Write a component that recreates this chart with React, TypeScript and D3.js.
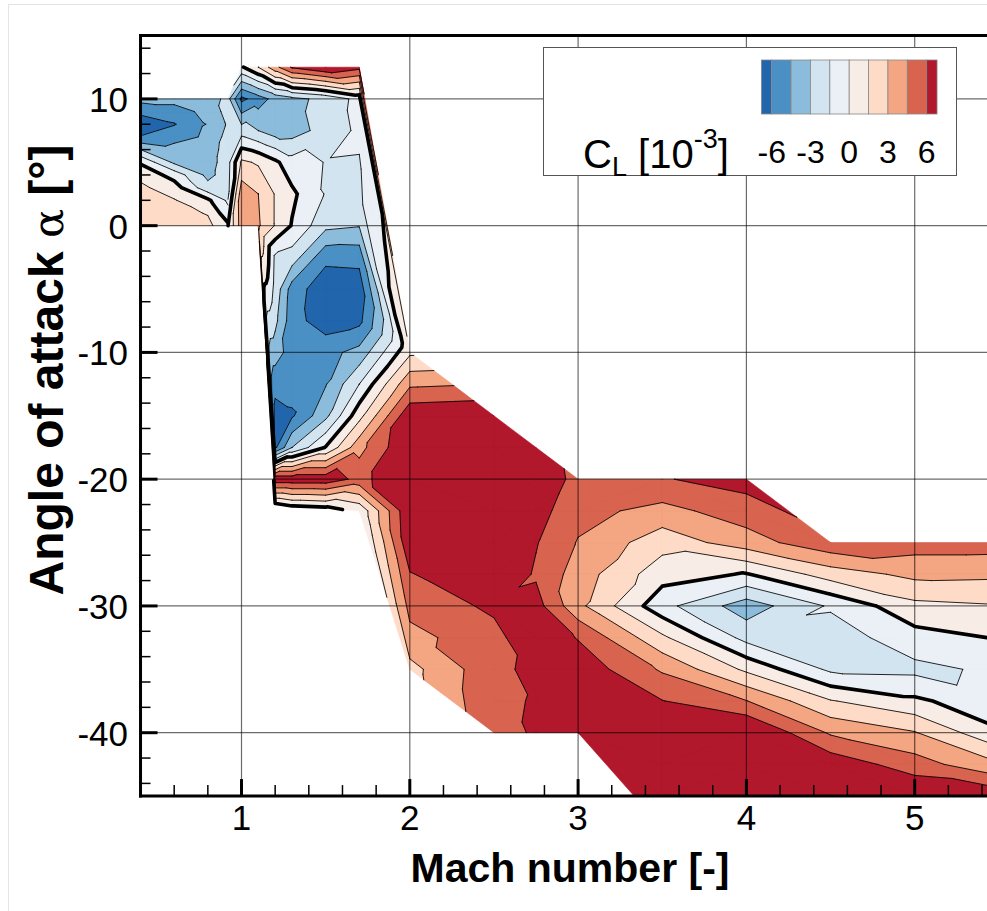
import React from "react";
import * as d3 from "d3";

const WIDTH = 987;
const HEIGHT = 911;

// Axis ticks and legend labels
const machTicks = [1, 2, 3, 4, 5];
const alphaTicks = [-40, -30, -20, -10, 0, 10];
const legendTicks = [-6, -3, 0, 3, 6];

// Contour levels of C_L [1e-3] and the fill colour of each band (below the first level, between levels, above the last)
const levels = [-6, -4.5, -3, -1.5, 0, 1.5, 3, 4.5, 6];
const bandColors = [
  "#2166ac", "#4a90c5", "#8bbcdb", "#d1e4f0", "#eaf0f5",
  "#f8ece7", "#fddbc7", "#f4a582", "#d8634f", "#b2182b",
];

// Subsonic block: Mach columns, angle-of-attack rows, C_L per column
const subMach = [0.4, 0.6, 0.8, 0.92];
const subAlpha = [0, 1, 2, 3, 4, 5, 6, 7, 8, 9, 10];
const subCL = [
  [2.6, 2.5, 2.2, 1.8, 1.1, -0.2, -3.0, -5.9, -7.0, -5.6, -4.0],
  [2.3, 2.0, 1.6, 0.7, -0.6, -3.3, -4.0, -5.0, -6.1, -5.1, -4.0],
  [1.9, 1.4, 0.3, -2.5, -3.4, -3.6, -3.8, -4.3, -4.4, -4.1, -3.7],
  [0.3, -1.0, -1.8, -2.2, -2.3, -2.3, -2.3, -2.4, -2.8, -2.4, -2.6],
];

// Transonic / supersonic block: each Mach column has its own sweep of angles
const mainMach = [0.92, 1.0, 1.1, 1.2, 1.3, 1.5, 1.7, 2.0, 2.5, 2.75, 3.0, 3.5, 4.0, 4.5, 5.0, 5.5];
const mainAlpha = [
  [10, 7.5, 5, 2.5, 0],
  [12.5, 10, 7.5, 5, 2.5, 0],
  [12.5, 10, 7.5, 5, 2.5, 0],
  [12.5, 10, 7.5, 5, 2.5, 0, -2.5, -5, -7.5, -10, -12.5, -15, -17.5, -20, -22],
  [12.5, 10, 7.5, 5, 2.5, 0, -2.5, -5, -7.5, -10, -12.5, -15, -17.5, -20, -22.2],
  [12.5, 10, 7.5, 5, 2.5, 0, -2.5, -5, -7.5, -10, -12.5, -15, -17.5, -20, -22.3],
  [12.5, 10, 7.5, 5, 2.5, 0, -2.5, -5, -7.5, -10, -12.5, -15, -17.5, -20, -22.5],
  [-10, -12.5, -15, -17.5, -20, -22.5, -25, -27.5, -30, -32.5, -35],
  [-15, -17.5, -20, -22.5, -25, -27.5, -30, -32.5, -35, -37.5, -40],
  [-17.5, -20, -22.5, -25, -27.5, -30, -32.5, -35, -37.5, -40],
  [-20, -22.5, -25, -27.5, -30, -32.5, -35, -37.5, -40],
  [-20, -22.5, -25, -27.5, -30, -32.5, -35, -37.5, -40, -42.5, -45, -47.5],
  [-20, -22.5, -25, -27.5, -30, -32.5, -35, -37.5, -40, -42.5, -45, -47.5, -50],
  [-25, -27.5, -30, -32.5, -35, -37.5, -40, -42.5, -45, -47.5, -50],
  [-25, -27.5, -30, -32.5, -35, -37.5, -40, -42.5, -45, -47.5, -50],
  [-25, -27.5, -30, -32.5, -35, -37.5, -40, -42.5, -45, -47.5, -50],
];
const mainCL = [
  [-2.5, -2.2, -2.0, -1.8, 0.0],
  [-0.2, -6.4, -2.2, 1.8, 3.9, 3.8],
  [1.5, -5.2, -3.0, 1.3, 3.0, 3.2],
  [4.0, -4.0, -3.8, 0.3, 1.4, 1.4, -1.8, -2.0, -2.6, -3.8, -5.5, -6.6, -6.3, 7.0, -0.3],
  [6.2, -3.4, -3.7, -0.9, 0.3, -0.1, -2.2, -5.2, -5.4, -5.2, -5.4, -6.2, -3.0, 7.0, -0.3],
  [7.5, -2.6, -2.4, -1.55, -1.6, -2.6, -5.6, -7.0, -6.8, -5.0, -4.6, -3.4, 0.1, 7.0, -0.3],
  [6.5, -1.0, -1.2, -1.6, -1.7, -2.9, -5.5, -6.9, -6.4, -4.0, -1.5, 1.0, 4.0, 5.5, 0.3],
  [1.2, 4.2, 7.2, 7.5, 7.5, 7.4, 7.2, 5.9, 5.0, 4.0, 2.5],
  [7.5, 7.8, 8.0, 8.0, 8.0, 7.5, 6.3, 5.5, 5.6, 5.7, 5.5],
  [7.0, 7.2, 6.6, 6.1, 5.8, 6.6, 7.2, 6.4, 6.1, 6.15],
  [5.5, 5.0, 4.4, 3.8, 3.4, 5.9, 7.0, 7.5, 8.0],
  [5.9, 4.0, 2.1, 0.6, -1.0, 1.8, 4.3, 6.05, 7.2, 7.8, 8.0, 8.0],
  [6.6, 5.3, 3.8, -0.1, -3.8, -2.0, 1.2, 4.55, 7.8, 8.2, 8.3, 8.3, 8.3],
  [5.6, 2.2, -1.3, -2.3, -1.8, 1.6, 4.3, 7.0, 7.8, 8.0, 8.0],
  [5.2, 3.4, 1.1, -0.6, -1.9, 0.3, 3.1, 5.2, 7.5, 8.0, 8.0],
  [5.2, 3.3, 1.4, 0.1, -1.2, -1.1, 0.2, 3.2, 7.0, 8.0, 8.0],
];

type Node = { px: number; py: number; a: number; v: number };
type Pt = [number, number, number];

const x = d3.scaleLinear().domain([1, 5]).range([241.5, 914.7]);
const y = d3.scaleLinear().domain([-40, 10]).range([732.7, 98.9]);
const cbar = d3.scaleLinear().domain([-6, 6]).range([771.7, 926.7]);

const plotLeft = x(0.4);
const plotTop = y(15);
const plotBottom = y(-45);
const plotRight = x(5.56);

function columns(machs: number[], alphas: number[][], cls: number[][]): Node[][] {
  return machs.map((m, i) => {
    const col = alphas[i].map((a, k) => ({ px: x(m), py: y(a), a, v: cls[i][k] }));
    col.sort((p, q) => q.a - p.a);
    return col;
  });
}

// Stitch neighbouring columns into triangles, walking down both columns by angle.
// Where both columns share a row the quad is split along the diagonal with the smaller jump in C_L.
function stitch(cols: Node[][]): Node[][] {
  const tris: Node[][] = [];
  for (let c = 0; c < cols.length - 1; c++) {
    const A = cols[c];
    const B = cols[c + 1];
    let i = 0;
    let j = 0;
    while (i < A.length - 1 || j < B.length - 1) {
      const canA = i < A.length - 1;
      const canB = j < B.length - 1;
      if (canA && canB && A[i].a === B[j].a && A[i + 1].a === B[j + 1].a) {
        const d1 = Math.abs(A[i + 1].v - B[j].v);
        const d2 = Math.abs(A[i].v - B[j + 1].v);
        if (d1 <= d2) {
          tris.push([A[i], A[i + 1], B[j]]);
          tris.push([A[i + 1], B[j + 1], B[j]]);
        } else {
          tris.push([A[i], B[j + 1], B[j]]);
          tris.push([A[i], A[i + 1], B[j + 1]]);
        }
        i++;
        j++;
        continue;
      }
      const advA = canA && (!canB || A[i + 1].a >= B[j + 1].a);
      if (advA) {
        tris.push([A[i], A[i + 1], B[j]]);
        i++;
      } else {
        tris.push([A[i], B[j], B[j + 1]]);
        j++;
      }
    }
  }
  return tris;
}

function lerp(p: Pt, q: Pt, L: number): Pt {
  const t = (L - p[2]) / (q[2] - p[2]);
  return [p[0] + t * (q[0] - p[0]), p[1] + t * (q[1] - p[1]), L];
}

function clipPoly(poly: Pt[], L: number, above: boolean): Pt[] {
  const out: Pt[] = [];
  const n = poly.length;
  for (let k = 0; k < n; k++) {
    const cur = poly[k];
    const prev = poly[(k + n - 1) % n];
    const inCur = above ? cur[2] >= L : cur[2] <= L;
    const inPrev = above ? prev[2] >= L : prev[2] <= L;
    if (inCur) {
      if (!inPrev) out.push(lerp(prev, cur, L));
      out.push(cur);
    } else if (inPrev) {
      out.push(lerp(prev, cur, L));
    }
  }
  return out;
}

function bandPaths(tris: Node[][]): string[] {
  return bandColors.map((_, b) => {
    const lo = b === 0 ? -Infinity : levels[b - 1];
    const hi = b === bandColors.length - 1 ? Infinity : levels[b];
    const path = d3.path();
    for (const t of tris) {
      let poly: Pt[] = t.map((n) => [n.px, n.py, n.v] as Pt);
      if (lo > -Infinity) poly = clipPoly(poly, lo, true);
      if (poly.length >= 3 && hi < Infinity) poly = clipPoly(poly, hi, false);
      if (poly.length < 3) continue;
      path.moveTo(poly[0][0], poly[0][1]);
      for (let k = 1; k < poly.length; k++) path.lineTo(poly[k][0], poly[k][1]);
      path.closePath();
    }
    return path.toString();
  });
}

function isoPath(tris: Node[][], L: number): string {
  const path = d3.path();
  for (const t of tris) {
    const pts: Pt[] = [];
    for (let k = 0; k < 3; k++) {
      const p: Pt = [t[k].px, t[k].py, t[k].v];
      const q: Pt = [t[(k + 1) % 3].px, t[(k + 1) % 3].py, t[(k + 1) % 3].v];
      if ((p[2] >= L) !== (q[2] >= L)) pts.push(lerp(p, q, L));
    }
    if (pts.length === 2) {
      path.moveTo(pts[0][0], pts[0][1]);
      path.lineTo(pts[1][0], pts[1][1]);
    }
  }
  return path.toString();
}

const blocks = [
  stitch(columns(subMach, subMach.map(() => subAlpha), subCL)),
  stitch(columns(mainMach, mainAlpha, mainCL)),
];

const FONT = "'Liberation Sans', Arial, Helvetica, sans-serif";

export default function App() {
  const minorAlpha = d3.range(-44, 15, 2).filter((a) => a % 10 !== 0);
  const minorMach = d3.range(0.6, 5.5, 0.2).filter((m) => Math.abs(m - Math.round(m)) > 0.01);

  const bandsEdges = [-6.8, ...levels, 6.8];

  return (
    <svg
      width={WIDTH}
      height={HEIGHT}
      style={{ position: "absolute", left: 0, top: 0, background: "#fff" }}
      fontFamily={FONT}
    >
      <rect x={8.5} y={4.5} width={990} height={920} fill="none" stroke="#e4e4e4" strokeWidth={1} />
      <defs>
        <clipPath id="plot-area">
          <rect x={plotLeft} y={plotTop} width={plotRight - plotLeft} height={plotBottom - plotTop} />
        </clipPath>
      </defs>

      <g clipPath="url(#plot-area)">
        {blocks.map((tris, bi) => (
          <g key={`blk${bi}`}>
            {bandPaths(tris).map((d, b) => (
              <path key={b} d={d} fill={bandColors[b]} stroke={bandColors[b]} strokeWidth={0.6} strokeLinejoin="round" />
            ))}
          </g>
        ))}
        {machTicks.map((m) => (
          <line key={`gx${m}`} x1={x(m)} x2={x(m)} y1={plotTop} y2={plotBottom} stroke="#000" strokeOpacity={0.58} strokeWidth={1.2} />
        ))}
        {alphaTicks.map((a) => (
          <line key={`gy${a}`} x1={plotLeft} x2={plotRight} y1={y(a)} y2={y(a)} stroke="#000" strokeOpacity={0.58} strokeWidth={1.2} />
        ))}
        {blocks.map((tris, bi) => (
          <g key={`iso${bi}`} fill="none" stroke="#000" strokeLinecap="round" strokeLinejoin="round">
            {levels.map((L) => (
              <path key={L} d={isoPath(tris, L)} strokeWidth={L === 0 ? 3.6 : 1} strokeOpacity={L === 0 ? 1 : 0.85} />
            ))}
          </g>
        ))}
      </g>

      {/* frame */}
      <g stroke="#000" strokeWidth={3} fill="none">
        <line x1={plotLeft} x2={plotLeft} y1={plotTop - 1.5} y2={plotBottom + 1.5} />
        <line x1={plotLeft - 1.5} x2={WIDTH} y1={plotBottom} y2={plotBottom} />
        <line x1={plotLeft - 1.5} x2={WIDTH} y1={plotTop} y2={plotTop} />
      </g>

      {/* ticks */}
      <g stroke="#000">
        {alphaTicks.map((a) => (
          <line key={`ty${a}`} x1={plotLeft} x2={plotLeft + 17} y1={y(a)} y2={y(a)} strokeWidth={3} />
        ))}
        {minorAlpha.map((a) => (
          <line key={`tmy${a}`} x1={plotLeft} x2={plotLeft + 10} y1={y(a)} y2={y(a)} strokeWidth={1.5} />
        ))}
        {machTicks.map((m) => (
          <line key={`tx${m}`} x1={x(m)} x2={x(m)} y1={plotBottom} y2={plotBottom - 17} strokeWidth={3} />
        ))}
        {minorMach.map((m) => (
          <line key={`tmx${m.toFixed(1)}`} x1={x(m)} x2={x(m)} y1={plotBottom} y2={plotBottom - 11} strokeWidth={1.5} />
        ))}
      </g>

      {/* tick labels */}
      <g fontSize={35} fill="#000">
        {alphaTicks.map((a) => (
          <text key={`ly${a}`} x={128} y={y(a) + 13} textAnchor="end">
            {a}
          </text>
        ))}
        {machTicks.map((m) => (
          <text key={`lx${m}`} x={x(m)} y={830} textAnchor="middle">
            {m}
          </text>
        ))}
      </g>

      {/* axis titles */}
      <text x={570} y={882} textAnchor="middle" fontSize={41} fontWeight="bold">
        Mach number [-]
      </text>
      <text
        transform={`translate(63, 370) rotate(-90)`}
        textAnchor="middle"
        fontSize={48}
        fontWeight="bold"
      >
        Angle of attack <tspan fontFamily="'DejaVu Serif', 'Liberation Serif', serif" fontWeight="normal" fontSize={43}>α</tspan> [°]
      </text>

      {/* legend */}
      <rect x={543.5} y={47.5} width={413} height={128} fill="#fff" stroke="#555" strokeWidth={1} />
      {bandColors.map((c, b) => (
        <rect
          key={`cb${b}`}
          x={cbar(bandsEdges[b])}
          y={60}
          width={cbar(bandsEdges[b + 1]) - cbar(bandsEdges[b])}
          height={54}
          fill={c}
          stroke="#888"
          strokeWidth={0.8}
        />
      ))}
      <g fontSize={32} textAnchor="middle">
        {legendTicks.map((t) => (
          <text key={`cl${t}`} x={cbar(t)} y={163}>
            {t}
          </text>
        ))}
      </g>
      <text x={583} y={168} fontSize={40}>
        C<tspan fontSize={27} dy={8}>L</tspan>
        <tspan dy={-8}> [10</tspan>
        <tspan fontSize={27} dy={-20}>-3</tspan>
        <tspan dy={20}>]</tspan>
      </text>
    </svg>
  );
}
